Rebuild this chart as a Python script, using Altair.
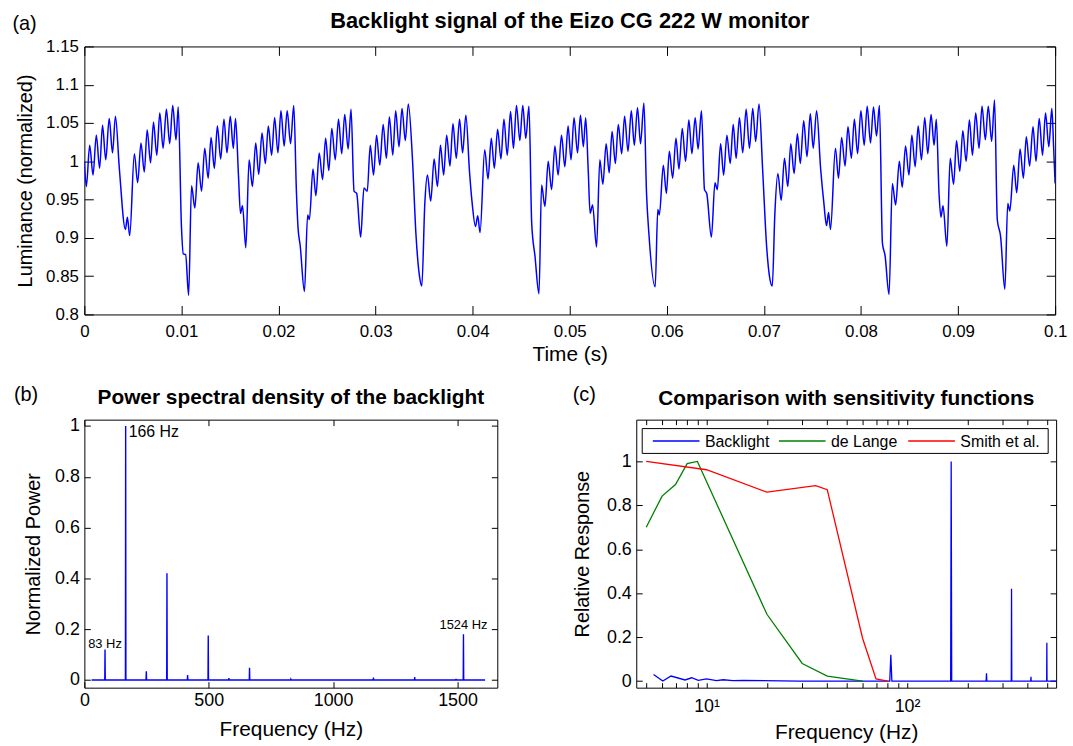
import altair as alt
import pandas as pd

FONT = "Liberation Sans"
BLUE, GREEN, RED = "#0000ff", "#008000", "#ff0000"

# ---------------- (a) backlight signal: time in ms, normalized luminance ----------------
t_ms = [
    0.0, 0.2, 0.55, 0.89, 1.23, 1.57, 1.87, 2.2, 2.56, 2.9, 3.2, 3.6, 4.23, 4.43, 4.67,
    5.15, 5.49, 5.83, 6.17, 6.47, 6.82, 7.12, 7.46, 7.77, 8.11, 8.45, 8.79, 9.1, 9.44, 9.67, 10.0, 10.19, 10.43, 10.74,
    11.04, 11.38, 11.72, 12.07, 12.4, 12.75, 13.05, 13.39, 13.7, 14.04, 14.38, 14.69, 15.03, 15.34, 15.57, 15.88, 16.08, 16.29, 16.63,
    16.97, 17.31, 17.65, 17.96, 18.3, 18.64, 18.95, 19.29, 19.6, 19.94, 20.25, 20.58, 20.89, 21.24, 21.57, 21.85, 22.0, 22.24, 22.67,
    23.0, 23.18, 23.55, 23.85, 24.19, 24.54, 24.85, 25.18, 25.49, 25.84, 26.18, 26.51, 26.82, 27.17, 27.47, 27.78, 28.05, 28.46,
    28.8, 29.14, 29.45, 29.79, 30.1, 30.43, 30.78, 31.11, 31.42, 31.77, 32.07, 32.41, 32.72, 33.06, 33.37, 33.8, 34.15, 34.5, 34.76,
    35.07, 35.34, 35.68, 36.03, 36.37, 36.68, 37.01, 37.32, 37.66, 37.97, 38.31, 38.65, 38.96, 39.3, 39.67, 39.95, 40.29, 40.52, 40.76,
    41.24, 41.58, 41.92, 42.23, 42.57, 42.91, 43.22, 43.56, 43.9, 44.2, 44.51, 44.86, 45.16, 45.47, 45.8, 46.08, 46.42, 46.83,
    47.1, 47.44, 47.78, 48.13, 48.47, 48.8, 49.15, 49.49, 49.83, 50.13, 50.44, 50.8, 51.1, 51.4, 51.64, 51.9, 52.1, 52.35, 52.76,
    53.1, 53.41, 53.75, 54.06, 54.36, 54.7, 55.0, 55.35, 55.65, 56.0, 56.34, 56.65, 56.98, 57.29, 57.64, 57.91, 58.15, 58.8,
    59.07, 59.23, 59.64, 59.95, 60.26, 60.6, 60.94, 61.25, 61.59, 61.93, 62.27, 62.58, 62.92, 63.22, 63.57, 63.88, 64.11, 64.59,
    64.96, 65.2, 65.54, 65.85, 66.19, 66.53, 66.84, 67.14, 67.48, 67.82, 68.17, 68.51, 68.85, 69.15, 69.5, 69.87, 70.28, 70.55, 70.86,
    71.13, 71.44, 71.78, 72.12, 72.46, 72.77, 73.11, 73.45, 73.75, 74.1, 74.44, 74.78, 75.08, 75.43, 75.84, 76.18, 76.45, 76.66, 76.86,
    77.37, 77.68, 78.01, 78.36, 78.66, 79.01, 79.32, 79.65, 79.99, 80.33, 80.64, 80.98, 81.29, 81.6, 81.9, 82.21, 82.48, 82.89,
    83.23, 83.57, 83.95, 84.25, 84.59, 84.94, 85.24, 85.58, 85.89, 86.23, 86.57, 86.88, 87.22, 87.53, 87.76, 88.04, 88.24, 88.45, 88.85,
    89.19, 89.54, 89.84, 90.18, 90.49, 90.83, 91.17, 91.48, 91.82, 92.16, 92.47, 92.81, 93.11, 93.46, 93.76, 94.04, 94.38, 94.82,
    95.12, 95.33, 95.74, 96.04, 96.39, 96.73, 97.03, 97.37, 97.72, 98.03, 98.36, 98.7, 99.01, 99.35, 99.66, 99.83, 100.0,
]
lum = [
    1.000, 0.967, 1.021, 0.982, 1.034, 0.991, 1.047, 1.002, 1.056, 1.011, 1.059, 0.991, 0.911, 0.927, 0.903,
    1.010, 0.972, 1.024, 0.986, 1.041, 0.998, 1.051, 1.008, 1.063, 1.017, 1.068, 1.023, 1.073, 1.028, 1.071, 0.915, 0.879, 0.878, 0.825,
    0.968, 0.939, 0.998, 0.961, 1.017, 0.978, 1.031, 0.991, 1.046, 1.003, 1.055, 1.011, 1.059, 1.017, 1.056, 0.980, 0.932, 0.942, 0.887,
    1.002, 0.967, 1.024, 0.983, 1.037, 0.997, 1.046, 1.008, 1.057, 1.011, 1.066, 1.020, 1.066, 1.023, 1.073, 0.958, 0.915, 0.889, 0.830,
    0.930, 0.924, 0.990, 0.955, 1.011, 0.976, 1.030, 0.988, 1.043, 1.002, 1.055, 1.010, 1.061, 1.016, 1.068, 0.961, 0.958, 0.901,
    0.965, 0.961, 1.021, 0.982, 1.034, 0.995, 1.048, 1.004, 1.058, 1.008, 1.066, 1.019, 1.069, 1.027, 1.075, 1.002, 0.906, 0.852, 0.837,
    0.945, 0.982, 0.948, 1.003, 0.967, 1.021, 0.982, 1.034, 0.994, 1.049, 1.004, 1.055, 1.011, 1.060, 0.987, 0.945, 0.915, 0.929, 0.907,
    1.015, 0.977, 1.030, 0.991, 1.042, 1.003, 1.055, 1.008, 1.065, 1.017, 1.073, 1.027, 1.073, 1.030, 1.072, 0.919, 0.876, 0.827,
    0.969, 0.941, 1.000, 0.963, 1.020, 0.982, 1.034, 0.993, 1.046, 1.002, 1.057, 1.011, 1.060, 1.019, 1.057, 0.989, 0.932, 0.943, 0.888,
    1.002, 0.970, 1.023, 0.985, 1.039, 0.997, 1.048, 1.010, 1.059, 1.013, 1.066, 1.021, 1.070, 1.023, 1.076, 0.958, 0.906, 0.836,
    0.937, 0.930, 0.995, 0.958, 1.013, 0.978, 1.030, 0.990, 1.043, 1.000, 1.054, 1.010, 1.057, 1.016, 1.066, 0.963, 0.958, 0.901,
    0.972, 0.963, 1.023, 0.982, 1.034, 0.997, 1.048, 1.004, 1.057, 1.011, 1.068, 1.017, 1.069, 1.026, 1.075, 0.989, 0.889, 0.852, 0.837,
    0.932, 0.984, 0.949, 1.004, 0.967, 1.023, 0.984, 1.036, 0.997, 1.053, 1.006, 1.062, 1.017, 1.066, 0.991, 0.945, 0.916, 0.933, 0.911,
    1.017, 0.978, 1.031, 0.994, 1.045, 1.004, 1.055, 1.010, 1.066, 1.021, 1.072, 1.024, 1.071, 1.033, 1.073, 0.893, 0.877, 0.826,
    0.971, 0.943, 1.000, 0.966, 1.020, 0.982, 1.034, 0.993, 1.046, 1.002, 1.057, 1.010, 1.061, 1.021, 1.055, 0.958, 0.927, 0.942, 0.889,
    1.004, 0.970, 1.027, 0.987, 1.040, 1.000, 1.054, 1.008, 1.063, 1.017, 1.072, 1.028, 1.072, 1.026, 1.080, 0.924, 0.902, 0.833,
    0.945, 0.935, 0.995, 0.959, 1.016, 0.978, 1.032, 0.994, 1.045, 1.000, 1.056, 1.008, 1.063, 1.019, 1.069, 1.023, 0.971,
]
time_ticks = [0, 0.01, 0.02, 0.03, 0.04, 0.05, 0.06, 0.07, 0.08, 0.09, 0.1]
lum_ticks = [0.8, 0.85, 0.9, 0.95, 1, 1.05, 1.1, 1.15]

# ---------------- (b)/(c) spectrum of the backlight ----------------
psd_freq = [5.44, 6.05, 6.65, 7.81, 8.43, 9.09, 10.0, 11.2, 12.1, 13.55, 15.2, 29,
            82, 83, 84, 165, 166, 167, 248, 249, 250, 331, 332, 333, 414, 415, 416,
            497, 498, 499, 580, 581, 582, 663, 664, 665, 829, 830, 831, 1161, 1162, 1163,
            1327, 1328, 1329, 1493, 1494, 1495, 1523, 1524, 1525, 1611]
psd_power = [0.03, 0.0, 0.023, 0.005, 0.015, 0.003, 0.01, 0.002, 0.006, 0.002, 0.003, 0,
             0, 0.12, 0, 0, 1.0, 0, 0, 0.035, 0, 0, 0.42, 0, 0, 0.02, 0,
             0, 0.175, 0, 0, 0.008, 0, 0, 0.048, 0, 0, 0.003, 0, 0, 0.01, 0,
             0, 0.012, 0, 0, 0.005, 0, 0, 0.18, 0, 0]
freq_ticks_b = [0, 500, 1000, 1500]
power_ticks = [0, 0.2, 0.4, 0.6, 0.8, 1]
ann_freq = [83, 166, 1524]
ann_power = [0.128, 0.955, 0.2]
ann_text = ["83 Hz", "166 Hz", "1524 Hz"]

delange_freq = [5, 6, 7, 8, 9, 20, 30, 40, 60]
delange_resp = [0.70, 0.842, 0.895, 0.99, 1.0, 0.304, 0.08, 0.023, 0.0]
smith_freq = [5, 10, 20, 35, 40, 60, 70, 80]
smith_resp = [1.0, 0.962, 0.86, 0.89, 0.871, 0.195, 0.01, 0.0]
series_names = ["Backlight", "de Lange", "Smith et al."]
series_colors = [BLUE, GREEN, RED]
log_ticks = [5, 6, 7, 8, 9, 10, 20, 30, 40, 50, 60, 70, 80, 90, 100, 200, 300, 400, 500]

titles = ["Backlight signal of the Eizo CG 222 W monitor",
          "Power spectral density of the backlight",
          "Comparison with sensitivity functions"]
panel_tags = ["(a)", "(b)", "(c)"]

NUM_FMT = ".6~g"


def main_axis(orient, values, title, tick, lab_pad, title_pad, label_size=18, title_size=20, **kw):
    return alt.Axis(orient=orient, values=values, title=title, format=NUM_FMT,
                    tickSize=tick, offset=-tick, domain=False, grid=False,
                    tickColor="black", tickWidth=1, labelColor="black", titleColor="black",
                    labelFont=FONT, labelFontSize=label_size, titleFont=FONT, titleFontSize=title_size,
                    titleFontWeight="normal", labelPadding=lab_pad, titlePadding=title_pad,
                    labelFlush=False, labelOverlap=False, **kw)


def mirror_axis(orient, values, tick):
    return alt.Axis(orient=orient, values=values, title=None, labels=False,
                    tickSize=tick, offset=-tick, domain=False, grid=False,
                    tickColor="black", tickWidth=1)


def text_layer(label, x, y, size=20, weight="normal", align="left", baseline="alphabetic"):
    return alt.Chart(pd.DataFrame({"label": [label]})).mark_text(
        font=FONT, fontSize=size, fontWeight=weight, align=align, baseline=baseline, color="black"
    ).encode(x=alt.value(x), y=alt.value(y), text="label:N")


# ---------------- panel (a) ----------------
WA, HA = 978, 270
df_a = pd.DataFrame({"t": [v / 1000 for v in t_ms], "lum": lum})
sx_a = alt.Scale(domain=[0, 0.1], nice=False, zero=False)
sy_a = alt.Scale(domain=[0.8, 1.15], nice=False, zero=False)
a_line = alt.Chart(df_a).mark_line(color=BLUE, strokeWidth=1.5, interpolate="monotone", clip=True).encode(
    x=alt.X("t:Q", scale=sx_a, axis=main_axis("bottom", time_ticks, "Time (s)", 9, 9, 4, label_size=17, title_size=21)),
    y=alt.Y("lum:Q", scale=sy_a, axis=main_axis("left", lum_ticks, "Luminance (normalized)", 9, 6, 10, label_size=17)),
)
a_mirror = alt.Chart(df_a).mark_line(strokeOpacity=0, clip=True).encode(
    x=alt.X("t:Q", scale=sx_a, axis=mirror_axis("top", time_ticks, 9)),
    y=alt.Y("lum:Q", scale=sy_a, axis=mirror_axis("right", lum_ticks, 9)),
)
panel_a = alt.layer(
    a_line, a_mirror,
    text_layer(titles[0], WA / 2, -19, size=22, weight="bold", align="center"),
    text_layer(panel_tags[0], -72.5, -17),
).resolve_axis(x="independent", y="independent").properties(width=WA, height=HA)

# ---------------- panel (b) ----------------
WB, HB = 416, 270
df_psd = pd.DataFrame({"f": psd_freq, "p": psd_power})
sx_b = alt.Scale(domain=[0, 1660], nice=False, zero=False)
sy_b = alt.Scale(domain=[-0.03, 1.025], nice=False, zero=False)
b_line = alt.Chart(df_psd).transform_filter("datum.f >= 29").mark_line(color=BLUE, strokeWidth=1.4, clip=True).encode(
    x=alt.X("f:Q", scale=sx_b, axis=main_axis("bottom", freq_ticks_b, "Frequency (Hz)", 6, 4, 9, title_size=21)),
    y=alt.Y("p:Q", scale=sy_b, axis=main_axis("left", power_ticks, "Normalized Power", 6, 5, 11)),
)
b_mirror = alt.Chart(df_psd).mark_line(strokeOpacity=0, clip=True).encode(
    x=alt.X("f:Q", scale=sx_b, axis=mirror_axis("top", freq_ticks_b, 6)),
    y=alt.Y("p:Q", scale=sy_b, axis=mirror_axis("right", power_ticks, 6)),
)
df_ann = pd.DataFrame({"f": ann_freq, "p": ann_power, "label": ann_text})
b_ann_center = alt.Chart(df_ann).transform_filter("datum.f != 166").mark_text(
    font=FONT, fontSize=13, align="center", baseline="alphabetic", color="black"
).encode(x=alt.X("f:Q", scale=sx_b, axis=None), y=alt.Y("p:Q", scale=sy_b, axis=None), text="label:N")
b_ann_left = alt.Chart(df_ann).transform_filter("datum.f == 166").mark_text(
    font=FONT, fontSize=16, align="left", baseline="alphabetic", dx=3, color="black"
).encode(x=alt.X("f:Q", scale=sx_b, axis=None), y=alt.Y("p:Q", scale=sy_b, axis=None), text="label:N")
panel_b = alt.layer(
    b_line, b_mirror, b_ann_center, b_ann_left,
    text_layer(titles[1], WB / 2, -15.5, size=21, weight="bold", align="center"),
    text_layer(panel_tags[1], -71, -19),
).resolve_axis(x="independent", y="independent").properties(width=WB, height=HB)

# ---------------- panel (c) ----------------
WC, HC = 423, 270
df_c = pd.concat([
    pd.DataFrame({"f": psd_freq, "v": psd_power, "series": series_names[0]}),
    pd.DataFrame({"f": delange_freq, "v": delange_resp, "series": series_names[1]}),
    pd.DataFrame({"f": smith_freq, "v": smith_resp, "series": series_names[2]}),
], ignore_index=True)
sx_c = alt.Scale(type="log", domain=[4.46, 554], nice=False)
sy_c = alt.Scale(domain=[-0.03, 1.19], nice=False, zero=False)
log_label = "datum.value == 10 ? '10\u00b9' : (datum.value == 100 ? '10\u00b2' : '')"
c_line = alt.Chart(df_c).mark_line(strokeWidth=1.3, clip=True).encode(
    x=alt.X("f:Q", scale=sx_c, axis=main_axis("bottom", log_ticks, "Frequency (Hz)", 5, 10, 6, title_size=21, labelExpr=log_label)),
    y=alt.Y("v:Q", scale=sy_c, axis=main_axis("left", power_ticks, "Relative Response", 6, 5, 14)),
    color=alt.Color("series:N", scale=alt.Scale(domain=series_names, range=series_colors), legend=None),
)
c_mirror = alt.Chart(df_c).mark_line(strokeOpacity=0, clip=True).encode(
    x=alt.X("f:Q", scale=sx_c, axis=mirror_axis("top", log_ticks, 5)),
    y=alt.Y("v:Q", scale=sy_c, axis=mirror_axis("right", power_ticks, 6)),
)

# hand-built legend box (MATLAB style, one row)
LEG_BOX = (6, 415, 9, 34)
LEG_Y = 21.5
LEG_X = [16.7, 143.7, 274.0]
LEG_LEN = 47
one_row = pd.DataFrame({"k": [0]})
legend_layers = [
    alt.Chart(one_row).mark_rect(fill="white", stroke="black", strokeWidth=1).encode(
        x=alt.value(LEG_BOX[0]), x2=alt.value(LEG_BOX[1]), y=alt.value(LEG_BOX[2]), y2=alt.value(LEG_BOX[3]))
]
for name, col, x0 in zip(series_names, series_colors, LEG_X):
    legend_layers.append(alt.Chart(one_row).mark_rule(color=col, strokeWidth=1.5).encode(
        x=alt.value(x0), x2=alt.value(x0 + LEG_LEN), y=alt.value(LEG_Y)))
    legend_layers.append(text_layer(name, x0 + LEG_LEN + 5.5, LEG_Y + 1, size=16, baseline="middle"))

panel_c = alt.layer(
    c_line, c_mirror, *legend_layers,
    text_layer(titles[2], WC / 2, -15, size=21, weight="bold", align="center"),
    text_layer(panel_tags[2], -64, -19),
).resolve_axis(x="independent", y="independent").properties(width=WC, height=HC)

bottom = alt.hconcat(panel_b, panel_c, spacing=140, bounds="flush")
chart = alt.vconcat(panel_a, bottom, spacing=106, bounds="flush").properties(
    padding={"left": 12, "top": 6, "right": 5, "bottom": 2},
    background="white",
).configure_view(stroke="black", strokeWidth=1)

chart.save("out.html", embed_options={"renderer": "svg", "actions": False})
